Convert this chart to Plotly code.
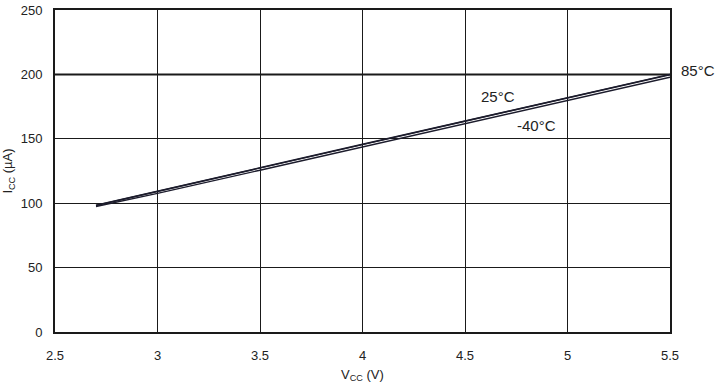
import plotly.graph_objects as go

vcc = [2.7, 3.0, 3.5, 4.0, 4.5, 5.0, 5.5]
icc_85 = [98.4, 109.2, 127.5, 145.8, 163.9, 182.0, 200]
icc_25 = [98.2, 109.0, 127.3, 145.5, 163.6, 181.8, 199.8]
icc_m40 = [97.4, 107.6, 125.6, 143.6, 161.6, 179.6, 197.8]

x_ticks = [2.5, 3, 3.5, 4, 4.5, 5, 5.5]
x_ticktext = ["2.5", "3", "3.5", "4", "4.5", "5", "5.5"]
y_ticks = [0, 50, 100, 150, 200, 250]

labels = [("25°C", 4.66, 183), ("-40°C", 4.85, 160)]
label_85 = ("85°C", 1.045, 203)

line_color = "#1c1c2c"
fig = go.Figure()
for name, ys in [("85°C", icc_85), ("25°C", icc_25), ("-40°C", icc_m40)]:
    fig.add_trace(go.Scatter(x=vcc, y=ys, mode="lines", name=name,
                             line=dict(color=line_color, width=1.4), showlegend=False))

for text, x, y in labels:
    fig.add_annotation(x=x, y=y, xref="x", yref="y", text=text, showarrow=False,
                       xanchor="center", font=dict(size=15, color="#222222"))
fig.add_annotation(x=label_85[1], y=label_85[2], xref="paper", yref="y", text=label_85[0],
                   showarrow=False, xanchor="center", font=dict(size=15, color="#222222"))

# thicker line at 200
fig.add_shape(type="line", xref="paper", yref="y", x0=0, x1=1, y0=y_ticks[4], y1=y_ticks[4],
              line=dict(color="#1a1a1a", width=2), layer="below")

font_family = "Liberation Sans, Arial, sans-serif"
fig.update_layout(
    width=720, height=386,
    margin=dict(l=55, r=50, t=10, b=54),
    paper_bgcolor="white", plot_bgcolor="white",
    font=dict(family=font_family, size=13, color="#222222"),
    xaxis=dict(range=[2.5, 5.5], tickvals=x_ticks, ticktext=x_ticktext, automargin=False,
               showgrid=True, gridcolor="#1a1a1a", gridwidth=1,
               showline=True, linecolor="#1a1a1a", linewidth=2, mirror=True,
               zeroline=False, ticks="", ticklabelstandoff=10,
               title=dict(text="V<sub>CC</sub> (V)", font=dict(size=13), standoff=8)),
    yaxis=dict(range=[0, 250], tickvals=y_ticks, automargin=False,
               showgrid=True, gridcolor="#1a1a1a", gridwidth=1,
               showline=True, linecolor="#1a1a1a", linewidth=2, mirror=True,
               zeroline=False, ticks="", ticklabelstandoff=8,
               title=dict(text="I<sub>CC</sub> (µA)", font=dict(size=13), standoff=6)),
)

fig.write_html("out.html")
